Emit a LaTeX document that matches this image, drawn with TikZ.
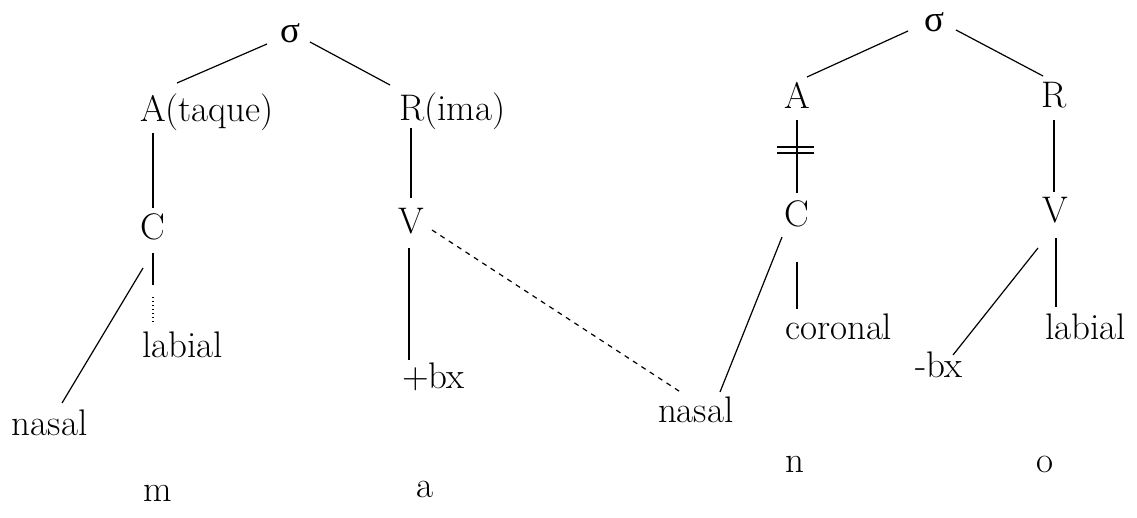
\documentclass[tikz,border=0pt]{standalone}
\usepackage{fontspec}
\newfontfamily\grk{Liberation Serif}
\usetikzlibrary{calc}
\begin{document}
\begin{tikzpicture}[x=1pt,y=-1pt,
  lbl/.style={inner sep=0pt,outer sep=0pt,font=\fontsize{37}{41}\selectfont},
  lw/.style={lbl,anchor=base west},
  lc/.style={lbl,anchor=base},
  edge/.style={line width=1.2pt},
  dashedge/.style={line width=1.2pt,dash pattern=on 5pt off 5pt},
  dotedge/.style={line width=1.2pt,dash pattern=on 1.5pt off 2.5pt},
  barline/.style={line width=2.6pt}]
\useasboundingbox (0,0) rectangle (1137,518);
% left tree
\node[lc] (s1) at (290,43) {\grk σ};
\node[lw] (A1) at (140,122) {A(taque)};
\node[lw] (R1) at (399,121) {R(ima)};
\node[lc] (C1) at (153,240) {C};
\node[lc] (V1) at (411,234) {V};
\node[lw] (lab1) at (142,357) {labial};
\node[lw] (nas1) at (12,435) {nasal};
\node[lw] (pbx) at (402,388) {+bx};
\node[lw] (nas2) at (658,422) {nasal};
% right tree
\node[lc] (s2) at (934,32) {\grk σ};
\node[lc] (A2) at (797,109) {A};
\node[lc] (R2) at (1054,108) {R};
\node[lc] (C2) at (797,227) {C};
\node[lc] (V2) at (1055,223) {V};
\node[lw] (cor) at (785,340) {coronal};
\node[lw] (lab2) at (1045,339) {labial};
\node[lw] (mbx) at (915,377) {-bx};
% segments
\node[lc] (m) at (158,501) {m};
\node[lc] (a) at (425,497) {a};
\node[lc] (n) at (795,472) {n};
\node[lc] (o) at (1045,472) {o};
% connectors left
\draw[edge] ($(s1.base)+(-23,1)$) -- ($(A1.base west)+(37,-39)$);
\draw[edge] ($(s1.base)+(20,-1)$) -- ($(R1.base west)+(-9,-36)$);
\draw[edge] ($(A1.base west)+(13,11)$) -- ($(C1.base)+(0,-32)$);
\draw[edge] ($(C1.base)+(0,13)$) -- ($(C1.base)+(0,45)$);
\draw[dotedge] ($(lab1.base west)+(11,-60)$) -- ($(lab1.base west)+(11,-35)$);
\draw[edge] ($(C1.base)+(-10,28)$) -- ($(nas1.base west)+(50,-32)$);
\draw[edge] ($(R1.base west)+(12,7)$) -- ($(V1.base)+(0,-36)$);
\draw[edge] ($(V1.base)+(-2,14)$) -- ($(pbx.base west)+(7,-28)$);
\draw[dashedge] ($(V1.base)+(21,-4)$) -- ($(nas2.base west)+(24,-29)$);
% connectors right
\draw[edge] ($(s2.base)+(-26,-1)$) -- ($(A2.base)+(10,-32)$);
\draw[edge] ($(s2.base)+(22,-2)$) -- ($(R2.base)+(-11,-32)$);
\draw[edge] ($(A2.base)+(0,11)$) -- ($(C2.base)+(0,-34)$);
\draw[barline] ($(A2.base)+(-20,38)$) -- ($(A2.base)+(17,38)$);
\draw[barline] ($(A2.base)+(-20,44)$) -- ($(A2.base)+(17,44)$);
\draw[edge] ($(C2.base)+(-15,10)$) -- ($(nas2.base west)+(62,-30)$);
\draw[edge] ($(C2.base)+(0,35)$) -- ($(cor.base west)+(12,-31)$);
\draw[edge] ($(R2.base)+(0,12)$) -- ($(V2.base)+(-1,-31)$);
\draw[edge] ($(V2.base)+(1,15)$) -- ($(lab2.base west)+(11,-32)$);
\draw[edge] ($(V2.base)+(-17,25)$) -- ($(mbx.base west)+(38,-22)$);
\end{tikzpicture}
\end{document}
